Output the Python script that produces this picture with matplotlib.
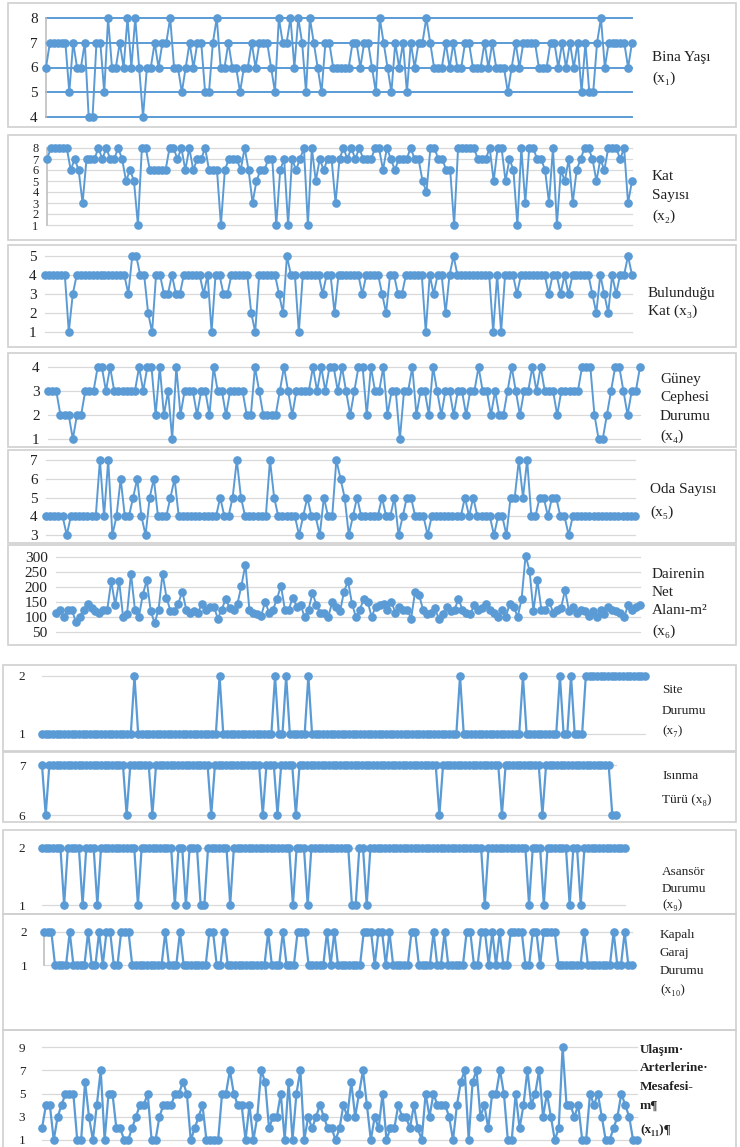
import matplotlib
matplotlib.use("Agg")
import matplotlib.pyplot as plt
from matplotlib.patches import Rectangle

# ---------------- data ----------------
bina_yasi = [6,7,7,7,7,7,5,7,6,6,7,4,4,7,7,5,8,6,6,7,6,8,6,8,6,4,6,6,7,6,7,7,8,6,6,5,6,7,6,7,
             7,5,5,7,8,6,6,7,6,6,5,6,6,7,6,7,7,7,6,5,8,7,7,8,6,8,7,5,8,7,6,5,7,7,6,6,6,6,6,7,
             7,6,7,7,6,5,8,7,6,5,7,6,7,5,7,6,7,7,8,7,6,6,6,7,6,7,6,6,7,7,6,6,6,7,6,7,6,6,6,5,
             6,7,6,7,7,7,7,6,6,6,7,7,6,7,6,7,6,7,5,7,5,5,7,8,6,7,7,7,7,7,6,7]
kat_sayisi = [7,8,8,8,8,8,6,7,6,3,7,7,7,8,7,8,7,7,8,7,5,6,5,1,8,8,6,6,6,6,6,8,8,7,8,6,8,6,7,7,
              8,6,6,6,1,6,7,7,7,6,8,6,3,5,6,6,7,7,1,6,7,1,7,6,7,8,1,8,5,7,6,7,7,3,7,8,7,8,7,8,
              7,7,7,8,8,6,8,7,6,7,7,7,8,7,7,5,4,8,8,7,7,6,6,1,8,8,8,8,8,7,7,7,8,5,8,8,5,7,6,1,
              8,3,8,8,7,7,6,3,8,1,6,5,7,3,6,7,8,8,7,5,7,6,8,8,8,7,8,3,5]
bulundugu_kat = [4,4,4,4,4,4,1,3,4,4,4,4,4,4,4,4,4,4,4,4,4,3,5,5,4,4,2,1,4,4,3,3,4,3,3,4,4,4,4,4,
                 3,4,1,4,4,3,3,4,4,4,4,4,2,1,4,4,4,4,4,3,2,5,4,4,1,4,4,4,4,4,3,4,4,2,4,4,4,4,4,4,
                 3,4,4,4,4,3,2,4,4,3,3,4,4,4,4,4,1,4,3,4,4,2,4,5,4,4,4,4,4,4,4,4,4,1,4,1,4,4,4,3,
                 4,4,4,4,4,4,4,3,4,4,3,4,3,4,4,4,4,4,3,2,4,3,2,4,3,4,4,5,4]
guney_cephe = [3,3,3,2,2,2,1,2,2,3,3,3,4,4,3,4,3,3,3,3,3,3,4,3,4,4,2,4,2,3,1,4,2,3,3,3,2,3,3,2,
               4,3,3,2,3,3,3,3,2,2,4,3,2,2,2,2,3,4,3,2,3,3,3,3,4,3,4,3,4,4,3,4,3,2,3,4,4,2,4,3,
               3,4,2,3,3,1,3,3,4,2,3,3,2,4,3,2,3,3,2,3,3,2,3,3,4,3,3,2,3,2,2,3,4,3,2,3,3,4,3,4,
               3,3,3,2,3,3,3,3,3,4,4,4,2,1,1,2,3,4,4,3,2,3,3,4]
oda_sayisi = [4,4,4,4,4,3,4,4,4,4,4,4,4,7,4,7,3,4,6,4,4,5,6,4,3,5,6,4,4,4,5,6,4,4,4,4,4,4,4,4,
              4,4,5,4,4,5,7,5,4,4,4,4,4,4,7,5,4,4,4,4,4,3,4,5,4,4,3,5,4,4,7,6,5,3,4,5,4,4,4,4,
              4,5,4,4,5,3,4,5,5,4,4,4,3,4,4,4,4,4,4,4,4,5,4,5,4,4,4,4,3,4,4,3,5,5,7,5,7,4,4,5,
              5,4,5,5,4,4,3,4,4,4,4,4,4,4,4,4,4,4,4,4,4,4,4]
net_alan = [115,125,100,125,125,85,100,125,145,130,120,115,125,125,220,140,220,100,110,245,
            125,100,175,222,120,80,125,245,165,120,120,145,185,125,115,120,115,145,125,135,
            135,95,125,160,130,125,145,205,275,125,115,110,105,150,115,125,160,205,125,125,
            165,135,140,100,125,180,140,115,115,100,150,135,120,185,220,145,100,125,160,150,
            100,135,140,145,125,150,115,135,125,125,95,185,175,125,110,115,130,95,110,135,
            120,125,160,125,115,110,140,125,130,145,125,115,100,125,100,145,135,100,160,305,
            255,120,222,125,125,150,115,125,130,190,120,135,115,125,120,105,120,100,125,110,
            135,125,120,115,100,140,125,135,140]
site_durumu = [1,1,1,1,1,1,1,1,1,1, 1,1,1,1,1,1,1,1,1,1, 1,1,1,1,1,2,1,1,1,1,
               1,1,1,1,1,1,1,1,1,1, 1,1,1,1,1,1,1,1,2,1, 1,1,1,1,1,1,1,1,1,1,
               1,1,1,2,1,1,2,1,1,1, 1,1,2,1,1,1,1,1,1,1, 1,1,1,1,1,1,1,1,1,1,
               1,1,1,1,1,1,1,1,1,1, 1,1,1,1,1,1,1,1,1,1, 1,1,1,2,1,1,1,1,1,1,
               1,1,1,1,1,1,1,1,1,1, 2,1,1,1,1,1,1,1,1,1, 2,1,1,2,1,1,1,2,2,2,
               2,2,2,2,2,2,2,2,2,2, 2,2,2,2]
isinma_turu = [7,6,7,7,7,7,7,7,7,7, 7,7,7,7,7,7,7,7,7,7, 7,7,7,6,7,7,7,7,7,7,
               6,7,7,7,7,7,7,7,7,7, 7,7,7,7,7,7,6,7,7,7, 7,7,7,7,7,7,7,7,7,7,
               6,7,7,7,6,7,7,7,7,6, 7,7,7,7,7,7,7,7,7,7, 7,7,7,7,7,7,7,7,7,7,
               7,7,7,7,7,7,7,7,7,7, 7,7,7,7,7,7,7,7,6,7, 7,7,7,7,7,7,7,7,7,7,
               7,7,7,7,7,6,7,7,7,7, 7,7,7,7,7,7,6,7,7,7, 7,7,7,7,7,7,7,7,7,7,
               7,7,7,7,7,6,6]
asansor = [2,2,2,2,2,2,1,2,2,2, 2,1,2,2,2,1,2,2,2,2, 2,2,2,2,2,2,1,2,2,2,
           2,2,2,2,2,2,1,2,2,1, 2,2,2,1,1,2,2,2,2,2, 2,1,2,2,2,2,2,2,2,2,
           2,2,2,2,2,2,2,2,1,2, 2,2,1,2,2,2,2,2,2,2, 2,2,2,2,1,1,2,2,1,2,
           2,2,2,2,2,2,2,2,2,2, 2,2,2,2,2,2,2,2,2,2, 2,2,2,2,2,2,2,2,2,2,
           1,2,2,2,2,2,2,2,2,2, 2,2,1,2,2,2,1,2,2,2, 2,2,2,1,2,2,1,2,2,2,
           2,2,2,2,2,2,2,2,2]
kapali_garaj = [2,2,2,1,1,1,1,2,1,1, 1,1,2,1,1,2,1,2,2,1, 1,2,2,2,1,1,1,1,1,1,
                1,1,1,2,1,1,1,2,1,1, 1,1,1,1,1,2,2,1,1,2, 1,1,1,1,1,1,1,1,1,1,
                1,2,1,1,1,2,1,1,1,2, 2,2,1,1,1,1,1,2,1,2, 1,1,1,1,1,1,1,2,2,2,
                1,2,2,1,2,1,1,1,1,1, 2,2,1,1,1,1,2,1,1,2, 1,1,1,1,1,2,2,1,1,2,
                2,1,2,1,2,1,1,2,2,2, 2,1,1,2,2,1,2,2,2,2, 1,1,1,1,1,1,1,2,1,1,
                1,1,1,1,1,2,1,1,2,1,1]
ulasim = [2,4,4,1,3,4,5,5,5,1,1,6,3,1,4,7,1,5,5,2,2,1,1,2,3,4,4,5,1,1,3,4,4,4,5,5,6,5,1,2,
          3,4,1,1,1,1,5,5,7,5,4,4,1,4,1,3,7,6,2,3,3,5,1,6,1,5,7,1,3,2,3,4,3,2,2,1,2,4,3,6,
          3,5,7,4,1,3,2,5,1,2,2,4,3,3,2,4,2,1,5,3,5,4,4,4,3,1,4,6,7,1,6,7,3,4,2,5,5,7,5,1,
          1,5,2,4,7,4,5,7,3,5,3,1,2,9,4,4,3,4,1,1,5,4,5,3,1,1,2,3,5,4,3,1,1]

labels = [
    ["Bina Yaşı", "(x₁)"],
    ["Kat", "Sayısı", "(x₂)"],
    ["Bulunduğu", "Kat (x₃)"],
    ["Güney", "Cephesi", "Durumu", "(x₄)"],
    ["Oda Sayısı", "(x₅)"],
    ["Dairenin", "Net", "Alanı-m²", "(x₆)"],
    ["Site", "Durumu", "(x₇)"],
    ["Isınma", "Türü (x₈)"],
    ["Asansör", "Durumu", "(x₉)"],
    ["Kapalı", "Garaj", "Durumu", "(x₁₀)"],
    ["Ulaşım·", "Arterlerine·", "Mesafesi-", "m¶", "(x₁₁)¶"],
]
yticks = [
    [4, 5, 6, 7, 8],
    [1, 2, 3, 4, 5, 6, 7, 8],
    [1, 2, 3, 4, 5],
    [1, 2, 3, 4],
    [3, 4, 5, 6, 7],
    [50, 100, 150, 200, 250, 300],
    [1, 2],
    [6, 7],
    [1, 2],
    [1, 2],
    [1, 3, 5, 7, 9],
]
series = [bina_yasi, kat_sayisi, bulundugu_kat, guney_cephe, oda_sayisi, net_alan,
          site_durumu, isinma_turu, asansor, kapali_garaj, ulasim]

# ---------------- layout (pixels) ----------------
W, H = 740, 1147
layout = [
    dict(p=(46, 632, 18, 117), box=(8, 3, 736, 127), lx=652, ly=[57, 78]),
    dict(p=(47, 632, 148, 225), box=(8, 135, 736, 240), lx=652, ly=[176, 196, 216]),
    dict(p=(45, 632, 256, 332), box=(8, 245, 736, 347), lx=648, ly=[294, 311]),
    dict(p=(48, 640, 367, 439), box=(8, 353, 736, 447), lx=660, ly=[379, 398, 417, 436]),
    dict(p=(46, 635, 460, 535), box=(8, 450, 736, 543), lx=650, ly=[490, 512]),
    dict(p=(56, 640, 557, 632), box=(8, 545, 736, 645), lx=652, ly=[574, 592, 611, 631]),
    dict(p=(42, 645, 676, 734), box=(3, 665, 736, 751), lx=662, ly=[690, 711, 731]),
    dict(p=(42, 616, 765, 815), box=(3, 752, 736, 822), lx=662, ly=[776, 800]),
    dict(p=(42, 625, 848, 905), box=(3, 830, 736, 914), lx=662, ly=[872, 889, 905]),
    dict(p=(44, 632, 932, 965), box=(3, 914, 736, 1030), lx=660, ly=[935, 953, 971, 990]),
    dict(p=(42, 637, 1047, 1140), box=(3, 1030, 736, 1150), lx=640, ly=[1050, 1068, 1087, 1106, 1130]),
]

BLUE = "#5B9BD5"
GRID = "#D9D9D9"
SERIF = ["Liberation Serif", "DejaVu Serif"]

fig = plt.figure(figsize=(W / 100, H / 100), dpi=100)
fig.patch.set_facecolor("white")

for i, (vals, lay) in enumerate(zip(series, layout)):
    bx0, by0, bx1, by1 = lay["box"]
    fig.patches.append(Rectangle((bx0 / W, 1 - by1 / H), (bx1 - bx0) / W, (by1 - by0) / H,
                                 transform=fig.transFigure, fill=False,
                                 edgecolor="#D0D0D0", linewidth=1.2))
    x0, x1, yt, yb = lay["p"]
    ax = fig.add_axes([x0 / W, 1 - yb / H, (x1 - x0) / W, (yb - yt) / H])
    ax.set_facecolor("none")
    lower = i >= 6
    ax.plot(range(len(vals)), vals, color=BLUE, lw=1.4 if not lower else 1.6,
            marker="o", ms=5.2 if not lower else 5.2, clip_on=False, zorder=3)
    tks = yticks[i]
    ax.set_ylim(tks[0], tks[-1])
    ax.set_xlim(0, len(vals) - 1)
    ax.set_yticks(tks)
    ax.set_xticks([])
    gcol = BLUE if i == 0 else GRID
    glw = 1.4 if i == 0 else 0.9
    for t in tks:
        ax.axhline(t, color=gcol, lw=glw, zorder=1, clip_on=False)
    for s in ax.spines.values():
        s.set_visible(False)
    if i in (0, 1, 9):
        ax.spines["left"].set_visible(True)
        ax.spines["left"].set_color("#BFBFBF")
        ax.spines["left"].set_linewidth(1.2)
    fs = 11 if not lower else 9.5
    if i == 1:
        fs = 9
    ax.tick_params(axis="y", length=0, pad=6 if not lower else 12, labelsize=fs)
    for lab in ax.get_yticklabels():
        lab.set_family(SERIF)
        lab.set_color("#222222")
    lfs = 11 if not lower else 9.5
    weight = "bold" if i == 10 else "normal"
    for txt, yy in zip(labels[i], lay["ly"]):
        fig.text(lay["lx"] / W, 1 - yy / H, txt, family=SERIF, fontsize=lfs,
                 ha="left", va="center", color="#222222", weight=weight)

fig.savefig("out.png", dpi=100, facecolor="white")
